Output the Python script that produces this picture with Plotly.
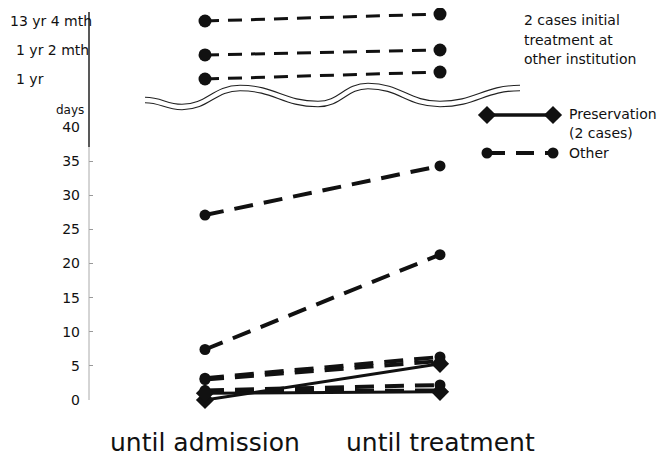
import plotly.graph_objects as go

# ---------------- data ----------------
categories = ["until admission", "until treatment"]

# upper (broken) section: ordinal positions, 1 = "1 yr", 2 = "1 yr 2 mth", 3 = "13 yr 4 mth"
upper_ticks = [1, 2, 3]
upper_tick_labels = ["1 yr", "1 yr 2 mth", "13 yr 4 mth"]
upper_admit = [3.0, 1.83, 1.0]
upper_treat = [3.24, 2.0, 1.24]

# lower section (days)
day_ticks = [0, 5, 10, 15, 20, 25, 30, 35, 40]
other_admit = [27.1, 7.4, 3.2, 3.0, 1.4, 1.2]
other_treat = [34.3, 21.3, 6.3, 5.7, 2.2, 1.4]
pres_admit = [0.0, 1.0]
pres_treat = [5.3, 1.2]

legend_labels = ["Preservation", "(2 cases)", "Other"]
note_lines = ["2 cases initial", "treatment at", "other institution"]

# ---------------- layout helpers ----------------
W, H = 672, 456
OFF = 8  # page offset of the figure inside the browser window
FONT = "DejaVu Sans"
INK = "#111111"


def px(x):
    return min(max((x - OFF) / W, 0), 1)


def py(y):
    return min(max(1 - (y - OFF) / H, 0), 1)


def upper_u(y):
    # window-pixel row -> position on the upper (broken) scale
    return 1 + (79 - y) / 29


fig = go.Figure()

# upper "other" cases
for a, t in zip(upper_admit, upper_treat):
    fig.add_trace(go.Scatter(
        x=[0, 1], y=[a, t], xaxis="x", yaxis="y2", mode="lines+markers",
        line=dict(color=INK, width=3, dash="14px,9px"),
        marker=dict(symbol="circle", size=13, color=INK),
        cliponaxis=False, showlegend=False, hoverinfo="skip"))

# lower "other" cases
for a, t in zip(other_admit, other_treat):
    fig.add_trace(go.Scatter(
        x=[0, 1], y=[a, t], xaxis="x", yaxis="y", mode="lines+markers",
        line=dict(color=INK, width=4, dash="19px,11px"),
        marker=dict(symbol="circle", size=11, color=INK),
        cliponaxis=False, showlegend=False, hoverinfo="skip"))

# preservation cases
for a, t in zip(pres_admit, pres_treat):
    fig.add_trace(go.Scatter(
        x=[0, 1], y=[a, t], xaxis="x", yaxis="y", mode="lines+markers",
        line=dict(color=INK, width=3),
        marker=dict(symbol="diamond", size=14, color=INK),
        cliponaxis=False, showlegend=False, hoverinfo="skip"))

# custom legend (overlay axes in window pixels)
fig.add_trace(go.Scatter(
    x=[487, 553], y=[115, 115], xaxis="x2", yaxis="y3", mode="lines+markers",
    line=dict(color=INK, width=3.5),
    marker=dict(symbol="diamond", size=14, color=INK),
    cliponaxis=False, showlegend=False, hoverinfo="skip"))
fig.add_trace(go.Scatter(
    x=[487, 553], y=[153, 153], xaxis="x2", yaxis="y3", mode="lines+markers",
    line=dict(color=INK, width=4, dash="18px,11px"),
    marker=dict(symbol="circle", size=11, color=INK),
    cliponaxis=False, showlegend=False, hoverinfo="skip"))

# ---------------- shapes ----------------
shapes = []
shapes.append(dict(type="line", xref="paper", yref="paper",
                   x0=px(89), x1=px(89), y0=py(12), y1=py(147),
                   line=dict(color="#222222", width=1.5)))
shapes.append(dict(type="line", xref="paper", yref="paper",
                   x0=px(89), x1=px(89), y0=py(147), y1=py(400),
                   line=dict(color="#aaaaaa", width=1)))

wave_pts = [(145, 100), (182, 107), (240, 88), (318, 104), (368, 86), (440, 104), (520, 88)]
d = "M {:.5f},{:.5f}".format(px(wave_pts[0][0]), py(wave_pts[0][1]))
for (x0, y0), (x1, y1) in zip(wave_pts[:-1], wave_pts[1:]):
    dx = (x1 - x0) * 0.45
    d += " C {:.5f},{:.5f} {:.5f},{:.5f} {:.5f},{:.5f}".format(
        px(x0 + dx), py(y0), px(x1 - dx), py(y1), px(x1), py(y1))
shapes.append(dict(type="path", xref="paper", yref="paper", path=d,
                   line=dict(color="#222222", width=6.5)))
shapes.append(dict(type="path", xref="paper", yref="paper", path=d,
                   line=dict(color="white", width=4.3)))

# ---------------- annotations ----------------
ann = []
for i, c in enumerate(categories):
    ann.append(dict(x=i, xref="x", y=py(442), yref="paper", text=c, showarrow=False,
                    xanchor="center", yanchor="middle",
                    font=dict(family=FONT, size=25, color=INK)))

label_x = [14, 14, 8]
for v, lab, lx in zip(upper_ticks, upper_tick_labels, label_x):
    ann.append(dict(x=px(lx), xref="paper", y=v, yref="y2", text=lab, showarrow=False,
                    xanchor="left", yanchor="middle",
                    font=dict(family=FONT, size=14, color=INK)))

ann.append(dict(x=px(86), xref="paper", y=py(110), yref="paper", text="days",
                showarrow=False, xanchor="right", yanchor="middle",
                font=dict(family=FONT, size=12, color=INK)))

for txt, yy in zip(note_lines, [20, 40, 59]):
    ann.append(dict(x=px(522), xref="paper", y=py(yy), yref="paper", text=txt,
                    showarrow=False, xanchor="left", yanchor="middle",
                    font=dict(family=FONT, size=14, color=INK)))

for txt, yy in zip(legend_labels, [114, 133, 153]):
    ann.append(dict(x=px(567), xref="paper", y=py(yy), yref="paper", text=txt,
                    showarrow=False, xanchor="left", yanchor="middle",
                    font=dict(family=FONT, size=14, color=INK)))

fig.update_layout(
    template="none",
    width=W, height=H,
    margin=dict(l=0, r=0, t=0, b=0, pad=0, autoexpand=False),
    paper_bgcolor="white", plot_bgcolor="rgba(0,0,0,0)",
    showlegend=False,
    xaxis=dict(domain=[px(89), 1], range=[-116 / 235, 1 + (W + OFF - 440) / 235],
               visible=False),
    yaxis=dict(domain=[py(400), py(127)], range=[0, 40], anchor="x",
               tickvals=day_ticks, ticktext=[str(v) for v in day_ticks],
               ticks="inside", ticklen=4, tickcolor="#999999",
               showline=False, showgrid=False, zeroline=False,
               ticklabelstandoff=8, automargin=False,
               tickfont=dict(family=FONT, size=14, color=INK)),
    yaxis2=dict(domain=[py(100), py(OFF)], range=[upper_u(100), upper_u(OFF)], anchor="x",
                visible=False),
    xaxis2=dict(domain=[0, 1], range=[OFF, W + OFF], anchor="y3", visible=False),
    yaxis3=dict(domain=[0, 1], range=[H + OFF, OFF], anchor="x2", visible=False),
    shapes=shapes,
    annotations=ann,
)

fig.write_html("out.html")
